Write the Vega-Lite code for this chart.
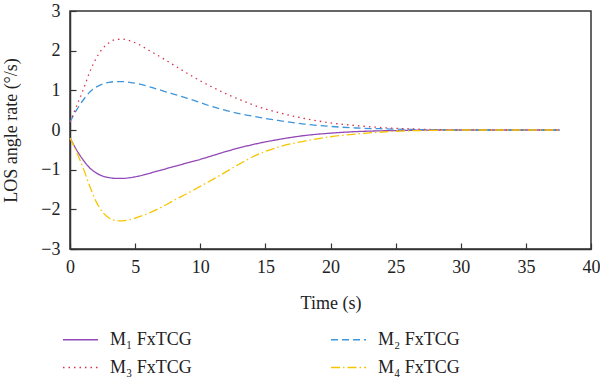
{
  "$schema": "https://vega.github.io/schema/vega-lite/v6.json",
  "autosize": "none",
  "width": 521,
  "height": 238,
  "padding": {"left": 70, "top": 11, "right": 9, "bottom": 132},
  "background": "white",
  "config": {
    "font": "Liberation Serif",
    "view": {"stroke": "#333333", "strokeWidth": 1.5},
    "axis": {"labelFont": "Liberation Serif", "titleFont": "Liberation Serif", "labelFontSize": 18, "titleFontSize": 18, "titleFontWeight": "normal", "labelColor": "#222", "titleColor": "#222", "domainColor": "#333333", "domainWidth": 1.5, "tickColor": "#333333", "tickWidth": 1.2, "grid": false, "labelFlush": false, "labelOverlap": false},
    "legend": {"labelFont": "Liberation Serif", "labelFontSize": 18, "labelColor": "#222"}
  },
  "data": {"values": [
    {"t":0,"v":-0.2,"s":"M₁ FxTCG"},{"t":0.5,"v":-0.5,"s":"M₁ FxTCG"},{"t":1,"v":-0.75,"s":"M₁ FxTCG"},{"t":1.5,"v":-0.95,"s":"M₁ FxTCG"},{"t":2,"v":-1.08,"s":"M₁ FxTCG"},{"t":2.5,"v":-1.16,"s":"M₁ FxTCG"},{"t":3,"v":-1.2,"s":"M₁ FxTCG"},{"t":3.5,"v":-1.22,"s":"M₁ FxTCG"},{"t":4,"v":-1.22,"s":"M₁ FxTCG"},{"t":5,"v":-1.18,"s":"M₁ FxTCG"},{"t":6,"v":-1.1,"s":"M₁ FxTCG"},{"t":7,"v":-1.01,"s":"M₁ FxTCG"},{"t":8,"v":-0.92,"s":"M₁ FxTCG"},{"t":9,"v":-0.83,"s":"M₁ FxTCG"},{"t":10,"v":-0.74,"s":"M₁ FxTCG"},{"t":11,"v":-0.64,"s":"M₁ FxTCG"},{"t":12,"v":-0.54,"s":"M₁ FxTCG"},{"t":13,"v":-0.45,"s":"M₁ FxTCG"},{"t":14,"v":-0.37,"s":"M₁ FxTCG"},{"t":15,"v":-0.3,"s":"M₁ FxTCG"},{"t":16,"v":-0.24,"s":"M₁ FxTCG"},{"t":18,"v":-0.14,"s":"M₁ FxTCG"},{"t":20,"v":-0.08,"s":"M₁ FxTCG"},{"t":22,"v":-0.04,"s":"M₁ FxTCG"},{"t":24,"v":-0.02,"s":"M₁ FxTCG"},{"t":26,"v":-0.01,"s":"M₁ FxTCG"},{"t":28,"v":0,"s":"M₁ FxTCG"},{"t":30,"v":0,"s":"M₁ FxTCG"},{"t":33,"v":0,"s":"M₁ FxTCG"},{"t":37.6,"v":0,"s":"M₁ FxTCG"},
    {"t":0,"v":0.2,"s":"M₂ FxTCG"},{"t":0.5,"v":0.5,"s":"M₂ FxTCG"},{"t":1,"v":0.75,"s":"M₂ FxTCG"},{"t":1.5,"v":0.95,"s":"M₂ FxTCG"},{"t":2,"v":1.08,"s":"M₂ FxTCG"},{"t":2.5,"v":1.16,"s":"M₂ FxTCG"},{"t":3,"v":1.2,"s":"M₂ FxTCG"},{"t":3.5,"v":1.22,"s":"M₂ FxTCG"},{"t":4,"v":1.22,"s":"M₂ FxTCG"},{"t":5,"v":1.18,"s":"M₂ FxTCG"},{"t":6,"v":1.1,"s":"M₂ FxTCG"},{"t":7,"v":1.0,"s":"M₂ FxTCG"},{"t":8,"v":0.9,"s":"M₂ FxTCG"},{"t":9,"v":0.8,"s":"M₂ FxTCG"},{"t":10,"v":0.69,"s":"M₂ FxTCG"},{"t":11,"v":0.58,"s":"M₂ FxTCG"},{"t":12,"v":0.49,"s":"M₂ FxTCG"},{"t":13,"v":0.41,"s":"M₂ FxTCG"},{"t":14,"v":0.35,"s":"M₂ FxTCG"},{"t":15,"v":0.29,"s":"M₂ FxTCG"},{"t":16,"v":0.24,"s":"M₂ FxTCG"},{"t":18,"v":0.15,"s":"M₂ FxTCG"},{"t":20,"v":0.09,"s":"M₂ FxTCG"},{"t":22,"v":0.05,"s":"M₂ FxTCG"},{"t":24,"v":0.03,"s":"M₂ FxTCG"},{"t":26,"v":0.015,"s":"M₂ FxTCG"},{"t":28,"v":0.005,"s":"M₂ FxTCG"},{"t":30,"v":0,"s":"M₂ FxTCG"},{"t":33,"v":0,"s":"M₂ FxTCG"},{"t":37.6,"v":0,"s":"M₂ FxTCG"},
    {"t":0,"v":0.2,"s":"M₃ FxTCG"},{"t":0.5,"v":0.6,"s":"M₃ FxTCG"},{"t":1,"v":1.0,"s":"M₃ FxTCG"},{"t":1.5,"v":1.45,"s":"M₃ FxTCG"},{"t":2,"v":1.8,"s":"M₃ FxTCG"},{"t":2.5,"v":2.05,"s":"M₃ FxTCG"},{"t":3,"v":2.2,"s":"M₃ FxTCG"},{"t":3.5,"v":2.28,"s":"M₃ FxTCG"},{"t":4,"v":2.29,"s":"M₃ FxTCG"},{"t":5,"v":2.2,"s":"M₃ FxTCG"},{"t":6,"v":2.02,"s":"M₃ FxTCG"},{"t":7,"v":1.83,"s":"M₃ FxTCG"},{"t":8,"v":1.63,"s":"M₃ FxTCG"},{"t":9,"v":1.43,"s":"M₃ FxTCG"},{"t":10,"v":1.24,"s":"M₃ FxTCG"},{"t":11,"v":1.07,"s":"M₃ FxTCG"},{"t":12,"v":0.91,"s":"M₃ FxTCG"},{"t":13,"v":0.77,"s":"M₃ FxTCG"},{"t":14,"v":0.64,"s":"M₃ FxTCG"},{"t":15,"v":0.53,"s":"M₃ FxTCG"},{"t":16,"v":0.44,"s":"M₃ FxTCG"},{"t":18,"v":0.29,"s":"M₃ FxTCG"},{"t":20,"v":0.18,"s":"M₃ FxTCG"},{"t":22,"v":0.11,"s":"M₃ FxTCG"},{"t":24,"v":0.06,"s":"M₃ FxTCG"},{"t":26,"v":0.03,"s":"M₃ FxTCG"},{"t":28,"v":0.01,"s":"M₃ FxTCG"},{"t":30,"v":0.005,"s":"M₃ FxTCG"},{"t":33,"v":0,"s":"M₃ FxTCG"},{"t":37.6,"v":0,"s":"M₃ FxTCG"},
    {"t":0,"v":-0.2,"s":"M₄ FxTCG"},{"t":0.5,"v":-0.55,"s":"M₄ FxTCG"},{"t":1,"v":-0.95,"s":"M₄ FxTCG"},{"t":1.5,"v":-1.4,"s":"M₄ FxTCG"},{"t":2,"v":-1.8,"s":"M₄ FxTCG"},{"t":2.5,"v":-2.07,"s":"M₄ FxTCG"},{"t":3,"v":-2.22,"s":"M₄ FxTCG"},{"t":3.5,"v":-2.28,"s":"M₄ FxTCG"},{"t":4,"v":-2.29,"s":"M₄ FxTCG"},{"t":5,"v":-2.22,"s":"M₄ FxTCG"},{"t":6,"v":-2.1,"s":"M₄ FxTCG"},{"t":7,"v":-1.95,"s":"M₄ FxTCG"},{"t":8,"v":-1.77,"s":"M₄ FxTCG"},{"t":9,"v":-1.6,"s":"M₄ FxTCG"},{"t":10,"v":-1.42,"s":"M₄ FxTCG"},{"t":11,"v":-1.24,"s":"M₄ FxTCG"},{"t":12,"v":-1.05,"s":"M₄ FxTCG"},{"t":13,"v":-0.86,"s":"M₄ FxTCG"},{"t":14,"v":-0.68,"s":"M₄ FxTCG"},{"t":15,"v":-0.54,"s":"M₄ FxTCG"},{"t":16,"v":-0.43,"s":"M₄ FxTCG"},{"t":18,"v":-0.28,"s":"M₄ FxTCG"},{"t":20,"v":-0.17,"s":"M₄ FxTCG"},{"t":22,"v":-0.1,"s":"M₄ FxTCG"},{"t":24,"v":-0.05,"s":"M₄ FxTCG"},{"t":26,"v":-0.02,"s":"M₄ FxTCG"},{"t":28,"v":-0.01,"s":"M₄ FxTCG"},{"t":30,"v":0,"s":"M₄ FxTCG"},{"t":33,"v":0,"s":"M₄ FxTCG"},{"t":37.6,"v":0,"s":"M₄ FxTCG"}
  ]},
  "mark": {"type": "line", "strokeWidth": 1.3, "interpolate": "monotone"},
  "encoding": {
    "x": {"field": "t", "type": "quantitative", "title": "Time (s)", "scale": {"domain": [0, 40], "nice": false}, "axis": {"values": [0,5,10,15,20,25,30,35,40], "tickSize": -6, "labelPadding": 15, "titlePadding": 18, "format": "d"}},
    "y": {"field": "v", "type": "quantitative", "title": "LOS angle rate (°/s)", "scale": {"domain": [-3, 3], "nice": false}, "axis": {"values": [-3,-2,-1,0,1,2,3], "tickSize": -6, "labelPadding": 16, "titlePadding": 20, "format": "d"}},
    "color": {"field": "s", "type": "nominal", "scale": {"domain": ["M₁ FxTCG","M₂ FxTCG","M₃ FxTCG","M₄ FxTCG"], "range": ["#9348b8","#3d95db","#d9304a","#f7c500"]},
      "legend": {"title": null, "orient": "none", "legendX": -8, "legendY": 310, "columns": 2, "direction": "horizontal", "columnPadding": 136, "rowPadding": -13, "symbolType": "stroke", "symbolSize": 1225, "symbolStrokeWidth": 1.3, "labelOffset": 11}},
    "strokeDash": {"field": "s", "type": "nominal", "scale": {"domain": ["M₁ FxTCG","M₂ FxTCG","M₃ FxTCG","M₄ FxTCG"], "range": [[1,0],[7,4],[1.5,4],[9,3,1.5,3]]}, "legend": null}
  }
}
